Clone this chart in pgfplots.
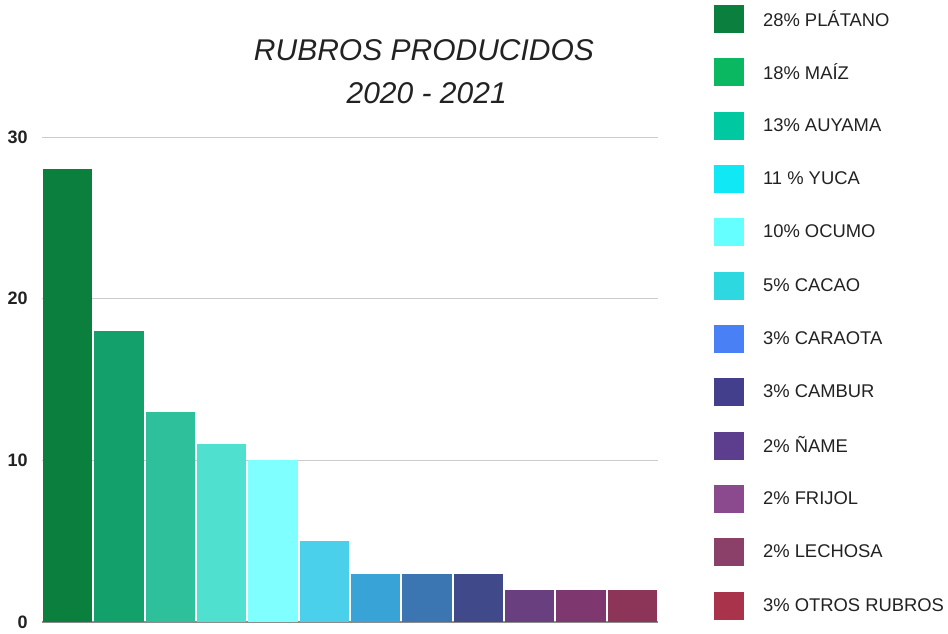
\documentclass[border=0pt]{standalone}
\usepackage{pgfplots}
\pgfplotsset{compat=1.18}
\usepackage{fontspec}
\setmainfont{Liberation Sans}
\definecolor{b1}{HTML}{0B7F3D}
\definecolor{b2}{HTML}{14A06B}
\definecolor{b3}{HTML}{2DC09B}
\definecolor{b4}{HTML}{50E0CF}
\definecolor{b5}{HTML}{7FFFFF}
\definecolor{b6}{HTML}{4BD0EC}
\definecolor{b7}{HTML}{37A3D6}
\definecolor{b8}{HTML}{3B76B3}
\definecolor{b9}{HTML}{40498A}
\definecolor{b10}{HTML}{6A3F80}
\definecolor{b11}{HTML}{7E376F}
\definecolor{b12}{HTML}{8C3558}
\definecolor{l1}{HTML}{0B7F3D}
\definecolor{l2}{HTML}{0BB862}
\definecolor{l3}{HTML}{00C8A0}
\definecolor{l4}{HTML}{10E8F5}
\definecolor{l5}{HTML}{66FFFF}
\definecolor{l6}{HTML}{2ED8E0}
\definecolor{l7}{HTML}{4A80F5}
\definecolor{l8}{HTML}{433F8C}
\definecolor{l9}{HTML}{5D3D8E}
\definecolor{l10}{HTML}{8B4A8D}
\definecolor{l11}{HTML}{8A4068}
\definecolor{l12}{HTML}{A8334A}
\definecolor{txt}{HTML}{222222}
\begin{document}
\begin{tikzpicture}
\useasboundingbox (0,0) rectangle (711pt,474.75pt);
\begin{axis}[
  at={(31.5pt,8.25pt)}, anchor=south west,
  scale only axis, width=462pt, height=363.75pt,
  xmin=-0.5, xmax=11.5, ymin=0, ymax=30,
  ytick={0,10,20,30}, xtick=\empty,
  /pgf/number format/assume math mode=true,
  ymajorgrids, grid style={draw=black!20, line width=0.75pt},
  separate axis lines,
  axis x line*=bottom, axis y line*=left,
  x axis line style={-, draw=black!45, line width=0.9pt},
  y axis line style={draw=none},
  ytick style={draw=none},
  yticklabel style={font=\fontsize{13.5}{15}\selectfont\bfseries, text=txt, anchor=east, inner sep=0pt, xshift=-10.5pt},
  ybar, bar width=0.965, bar shift=0pt,
  every axis plot/.append style={draw=none, forget plot},
  legend style={at={(1.091,1.272)}, anchor=north west, draw=none, fill=none,
    inner sep=0pt, outer sep=0pt, row sep=19pt,
    font=\fontsize{13.8}{16}\selectfont, text=txt,
    nodes={inner sep=0pt, text=txt},
    /tikz/every odd column/.append style={column sep=14.25pt}},
  legend cell align=left,
  legend image code/.code={\fill[#1] (0pt,-10.5pt) rectangle (22.5pt,10.5pt);},
]
\addplot[fill=b1] coordinates {(0,28)};
\addplot[fill=b2] coordinates {(1,18)};
\addplot[fill=b3] coordinates {(2,13)};
\addplot[fill=b4] coordinates {(3,11)};
\addplot[fill=b5] coordinates {(4,10)};
\addplot[fill=b6] coordinates {(5,5)};
\addplot[fill=b7] coordinates {(6,3)};
\addplot[fill=b8] coordinates {(7,3)};
\addplot[fill=b9] coordinates {(8,3)};
\addplot[fill=b10] coordinates {(9,2)};
\addplot[fill=b11] coordinates {(10,2)};
\addplot[fill=b12] coordinates {(11,2)};
\addlegendimage{fill=l1}
\addlegendimage{fill=l2}
\addlegendimage{fill=l3}
\addlegendimage{fill=l4}
\addlegendimage{fill=l5}
\addlegendimage{fill=l6}
\addlegendimage{fill=l7}
\addlegendimage{fill=l8}
\addlegendimage{fill=l9}
\addlegendimage{fill=l10}
\addlegendimage{fill=l11}
\addlegendimage{fill=l12}
\legend{28\% PLÁTANO, 18\% MAÍZ, 13\% AUYAMA, 11 \% YUCA, 10\% OCUMO, 5\% CACAO, 3\% CARAOTA, 3\% CAMBUR, 2\% ÑAME, 2\% FRIJOL, 2\% LECHOSA, 3\% OTROS RUBROS}
\end{axis}
\node[font=\fontsize{22.5}{26}\selectfont\itshape, text=txt] at (318pt,437.25pt) {RUBROS PRODUCIDOS};
\node[font=\fontsize{22.5}{26}\selectfont\itshape, text=txt] at (320pt,405pt) {2020 - 2021};
\end{tikzpicture}
\end{document}
